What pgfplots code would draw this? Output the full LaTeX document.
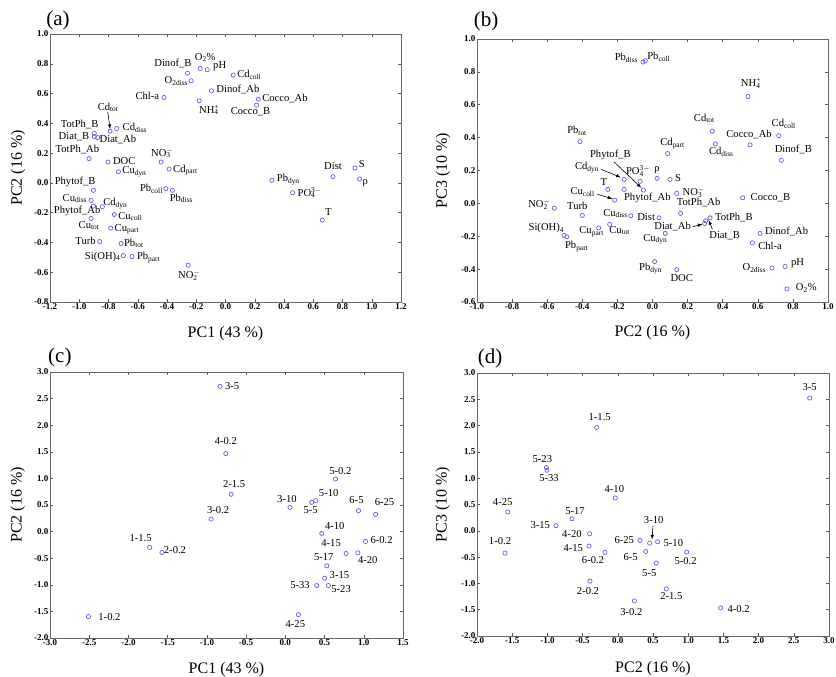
\documentclass[border=0pt]{standalone}
\usepackage{fontspec}
\setmainfont{Liberation Serif}
\usepackage{pgfplots}
\usepackage{pgfplotstable}
\pgfplotsset{compat=1.18}
\definecolor{mk}{RGB}{105,95,225}
\newcommand\subsup[2]{\makebox[0pt][l]{\textsubscript{#1}}\textsuperscript{#2}}
\newcommand\lblfont{\fontsize{10.6}{12}\selectfont}
\newcommand\axlblfont{\fontsize{16}{18}\selectfont}
\newcommand\panelfont{\fontsize{21}{24}\selectfont}
\newcommand\LW[1]{\rlap{#1}}
\newcommand\LE[1]{\llap{#1}}

\pgfplotstableread[col sep=comma,row sep=\\]{
x,y,lab,dx,dy\\
-0.26,0.737,\LE{Dinof\_B},4,10\\
-0.173,0.769,O\textsubscript{2}\%,5,11\\
-0.125,0.76,\LW{pH},6,4\\
-0.235,0.686,\LE{O\textsubscript{2diss}},-3,0\\
0.053,0.724,\LW{Cd\textsubscript{coll}},4,0\\
-0.096,0.618,\LW{Dinof\_Ab},5,1\\
-0.42,0.574,\LE{Chl-a},-5,2\\
-0.18,0.551,NH\subsup{4}{+},10,-9\\
0.224,0.562,\LW{Cocco\_Ab},4,1\\
0.212,0.522,Cocco\_B,-6,-7\\
-0.789,0.347,Cd\textsubscript{tot},-2,24\\
-0.744,0.365,\LW{Cd\textsubscript{diss}},6,1\\
-0.897,0.333,\LE{TotPh\_B},4,9\\
-0.897,0.311,\LE{Diat\_B},-5,0\\
-0.874,0.304,\LW{Diat\_Ab},2,-2\\
-0.933,0.163,\LE{TotPh\_Ab},10,9\\
-0.803,0.14,\LW{DOC},5,1\\
-0.732,0.075,\LW{Cu\textsubscript{dyn}},4,0\\
-0.44,0.14,NO\subsup{3}{$-$},1,9\\
-0.385,0.093,\LW{Cd\textsubscript{part}},4,-1\\
-0.408,-0.039,\LE{Pb\textsubscript{coll}},-3,0\\
-0.363,-0.05,Pb\textsubscript{diss},9,-8\\
-0.903,-0.05,\LE{Phytof\_B},2,8\\
-0.919,-0.118,\LE{Cu\textsubscript{diss}},-4,2\\
-0.842,-0.16,\LW{Cd\textsubscript{dyn}},1,3\\
-0.903,-0.156,\LE{Phytof\_Ab},7,-5\\
-0.76,-0.212,\LW{Cu\textsubscript{coll}},4,-2\\
-0.919,-0.239,Cu\textsubscript{tot},-2,-7\\
-0.785,-0.304,\LW{Cu\textsubscript{part}},4,-1\\
-0.86,-0.394,\LE{Turb},-4,1\\
-0.714,-0.407,\LW{Pb\textsubscript{tot}},3,0\\
-0.698,-0.488,\LE{Si(OH)\textsubscript{4}},-3,-1\\
-0.639,-0.495,\LW{Pb\textsubscript{part}},5,-1\\
-0.255,-0.553,NO\subsup{2}{$-$},1,-10\\
0.317,0.017,\LW{Pb\textsubscript{dyn}},5,1\\
0.459,-0.066,\LW{PO\subsup{4}{3$-$}},5,0\\
0.735,0.042,Dist,0,11\\
0.885,0.10,\LW{S},4,4\\
0.917,0.026,\LW{ρ},3,-4\\
0.662,-0.25,T,6,8\\
}\tabA

\pgfplotstableread[col sep=comma,row sep=\\]{
x,y,lab,dx,dy\\
-0.054,0.86,\LE{Pb\textsubscript{diss}},-5,4\\
-0.041,0.868,\LW{Pb\textsubscript{coll}},2,4\\
0.544,0.65,NH\subsup{4}{+},3,13\\
0.341,0.439,Cd\textsubscript{tot},-8,13\\
0.719,0.412,Cd\textsubscript{coll},5,12\\
0.556,0.356,Cocco\_Ab,-1,10\\
0.358,0.362,Cd\textsubscript{diss},6,-8\\
0.734,0.262,Dinof\_B,12,11\\
-0.413,0.376,Pb\textsubscript{tot},-3,11\\
0.086,0.303,Cd\textsubscript{part},5,10\\
-0.052,0.081,Phytof\_B,-33,35\\
-0.162,0.146,Cd\textsubscript{dyn},-37,12\\
-0.071,0.134,PO\subsup{4}{3$-$},-2,10\\
0.026,0.152,ρ,0,8\\
0.10,0.146,\LW{S},5,1\\
-0.255,0.085,T,-4,7\\
-0.162,0.085,\LW{Phytof\_Ab},0,-9\\
-0.216,0.02,Cu\textsubscript{coll},-32,8\\
0.138,0.061,\LW{NO\subsup{3}{$-$}},6,1\\
0.16,-0.061,TotPh\_Ab,18,11\\
0.514,0.034,\LW{Cocco\_B},8,0\\
-0.559,-0.029,\LE{NO\subsup{2}{$-$}},-4,4\\
-0.40,-0.073,Turb,-5,10\\
-0.124,-0.075,\LE{Cu\textsubscript{diss}},-3,2\\
0.037,-0.088,\LE{Dist},-4,1\\
0.328,-0.088,\LW{TotPh\_B},5,0\\
0.303,-0.106,Diat\_B,19,-15\\
0.297,-0.122,Diat\_Ab,-32,-3\\
-0.244,-0.128,Cu\textsubscript{tot},10,-6\\
-0.307,-0.149,Cu\textsubscript{part},-7,-4\\
0.073,-0.183,Cu\textsubscript{dyn},-10,-6\\
-0.504,-0.195,\LE{Si(OH)\textsubscript{4}},0,7\\
-0.489,-0.203,Pb\textsubscript{part},10,-10\\
0.613,-0.183,\LW{Dinof\_Ab},5,2\\
0.569,-0.24,\LW{Chl-a},6,-3\\
0.012,-0.354,Pb\textsubscript{dyn},-4,-7\\
0.138,-0.403,DOC,5,-8\\
0.681,-0.393,\LE{O\textsubscript{2diss}},-6,0\\
0.755,-0.384,\LW{pH},6,3\\
0.766,-0.521,\LW{O\textsubscript{2}\%},9,1\\
}\tabB

\pgfplotstableread[col sep=comma,row sep=\\]{
x,y,lab,dx,dy\\
-0.831,2.73,\LW{3-5},5,0\\
-0.759,1.467,4-0.2,0,13\\
-0.691,0.701,2-1.5,3,10\\
-0.946,0.236,3-0.2,7,9\\
-1.73,-0.298,1-1.5,-9,9\\
-1.573,-0.392,\LW{2-0.2},2,2\\
-2.51,-1.598,\LW{1-0.2},10,0\\
0.059,0.456,3-10,-3,8\\
0.336,0.55,5-5,-1,-8\\
0.387,0.582,5-10,13,8\\
0.639,0.99,5-0.2,5,8\\
0.933,0.393,6-5,-2,11\\
1.15,0.324,6-25,9,12\\
0.464,-0.034,4-10,13,7\\
1.022,-0.185,\LW{6-0.2},5,1\\
0.775,-0.411,4-15,-15,10\\
0.924,-0.398,4-20,10,-7\\
0.528,-0.643,5-17,-3,9\\
0.502,-0.876,\LW{3-15},5,3\\
0.40,-1.014,\LE{5-33},-7,1\\
0.549,-1.014,\LW{5-23},3,-3\\
0.166,-1.56,4-25,-3,-9\\
}\tabC

\pgfplotstableread[col sep=comma,row sep=\\]{
x,y,lab,dx,dy\\
2.725,2.524,3-5,0,11\\
-0.30,1.964,1-1.5,3,10\\
-1.015,1.202,5-23,-4,9\\
-1.006,1.151,5-33,2,-8\\
-0.035,0.624,4-10,-1,9\\
-1.564,0.357,4-25,-5,10\\
-0.651,0.23,5-17,3,8\\
-0.878,0.097,\LE{3-15},-6,1\\
-0.40,-0.056,\LE{4-20},-8,0\\
-1.602,-0.424,1-0.2,-5,12\\
-0.409,-0.291,\LE{4-15},-6,-2\\
-0.182,-0.412,6-0.2,-12,-8\\
0.315,-0.183,\LE{6-25},-6,0\\
0.453,-0.234,3-10,4,23\\
0.566,-0.208,\LW{5-10},6,-1\\
0.396,-0.393,6-5,-15,-6\\
0.978,-0.405,5-0.2,-1,-9\\
0.547,-0.615,5-5,-7,-10\\
-0.395,-0.958,2-0.2,-2,-10\\
0.689,-1.104,2-1.5,5,-7\\
0.235,-1.333,3-0.2,-3,-11\\
1.461,-1.466,\LW{4-0.2},7,-1\\
}\tabD

\pgfplotsset{
  pca/.style={
    scale only axis, clip=false,
    axis line style={black!60, line width=0.9pt},
    tick style={black!65, line width=0.5pt},
    tick align=inside, major tick length=3pt,
    tick label style={font=\fontsize{9}{10}\selectfont\bfseries},
    xticklabel style={inner sep=1.5pt},
    yticklabel style={inner sep=1.5pt},
    /pgf/number format/assume math mode=true,
    /pgf/number format/fixed, /pgf/number format/fixed zerofill,
    /pgf/number format/precision=1,
  },
  pts/.style={only marks, mark=o, mark size=2.1pt, mk,
    mark options={line width=0.7pt},
    point meta=explicit symbolic, nodes near coords,
    visualization depends on={\thisrow{dx}\as\myDX},
    visualization depends on={\thisrow{dy}\as\myDY},
    every node near coord/.append style={anchor=center, xshift=\myDX pt,
      yshift=\myDY pt, inner sep=0pt, text=black, font=\lblfont}},
}

\begin{document}
\begin{tikzpicture}
\path[use as bounding box] (0,0) rectangle (836pt,-677pt);

% (a)
\begin{axis}[pca, at={(50pt,-34pt)}, anchor=north west, width=351pt, height=268pt,
  xmin=-1.2, xmax=1.2, ymin=-0.8, ymax=1.0,
  xtick={-1.2,-1,-0.8,-0.6,-0.4,-0.2,0,0.2,0.4,0.6,0.8,1,1.2},
  ytick={-0.8,-0.6,-0.4,-0.2,0,0.2,0.4,0.6,0.8,1},
  xlabel={PC1 (43 \%)}, ylabel={PC2 (16 \%)},
  every axis x label/.style={at={(axis description cs:0.5,-0.118)}, anchor=center, font=\axlblfont},
  every axis y label/.style={at={(axis description cs:-0.091,0.5)}, rotate=90, anchor=center, font=\axlblfont}]
\addplot[pts] table[x=x,y=y,meta=lab]{\tabA};
\draw[-latex, line width=0.6pt] (axis cs:-0.805,0.475) -- (axis cs:-0.789,0.362);
\node[font=\panelfont] at (rel axis cs:0.023,1.052) {(a)};
\end{axis}

% (b)
\begin{axis}[pca, at={(477pt,-39pt)}, anchor=north west, width=351pt, height=263pt,
  xmin=-1, xmax=1, ymin=-0.6, ymax=1.0,
  xtick={-1,-0.8,-0.6,-0.4,-0.2,0,0.2,0.4,0.6,0.8,1},
  ytick={-0.6,-0.4,-0.2,0,0.2,0.4,0.6,0.8,1},
  xlabel={PC2 (16 \%)}, ylabel={PC3 (10 \%)},
  every axis x label/.style={at={(axis description cs:0.5,-0.118)}, anchor=center, font=\axlblfont},
  every axis y label/.style={at={(axis description cs:-0.097,0.5)}, rotate=90, anchor=center, font=\axlblfont}]
\addplot[pts] table[x=x,y=y,meta=lab]{\tabB};
\draw[-latex, line width=0.6pt] (axis cs:-0.219,0.252) -- (axis cs:-0.064,0.095);
\draw[-latex, line width=0.6pt] (axis cs:-0.292,0.207) -- (axis cs:-0.181,0.158);
\draw[-latex, line width=0.6pt] (axis cs:-0.314,0.055) -- (axis cs:-0.229,0.028);
\draw[-latex, line width=0.6pt] (axis cs:0.227,-0.143) -- (axis cs:0.285,-0.126);
\draw[-latex, line width=0.6pt] (axis cs:0.341,-0.157) -- (axis cs:0.320,-0.102);
\node[font=\panelfont] at (rel axis cs:0.026,1.068) {(b)};
\end{axis}

% (c)
\begin{axis}[pca, at={(50pt,-372pt)}, anchor=north west, width=353pt, height=266pt,
  xmin=-3, xmax=1.5, ymin=-2, ymax=3,
  xtick={-3,-2.5,-2,-1.5,-1,-0.5,0,0.5,1,1.5},
  ytick={-2,-1.5,-1,-0.5,0,0.5,1,1.5,2,2.5,3},
  xlabel={PC1 (43 \%)}, ylabel={PC2 (16 \%)},
  every axis x label/.style={at={(axis description cs:0.5,-0.12)}, anchor=center, font=\axlblfont},
  every axis y label/.style={at={(axis description cs:-0.091,0.5)}, rotate=90, anchor=center, font=\axlblfont}]
\addplot[pts] table[x=x,y=y,meta=lab]{\tabC};
\node[font=\panelfont] at (rel axis cs:0.028,1.053) {(c)};
\end{axis}

% (d)
\begin{axis}[pca, at={(477pt,-373pt)}, anchor=north west, width=352pt, height=263pt,
  xmin=-2, xmax=3, ymin=-2, ymax=3,
  xtick={-2,-1.5,-1,-0.5,0,0.5,1,1.5,2,2.5,3},
  ytick={-2,-1.5,-1,-0.5,0,0.5,1,1.5,2,2.5,3},
  xlabel={PC2 (16 \%)}, ylabel={PC3 (10 \%)},
  every axis x label/.style={at={(axis description cs:0.5,-0.125)}, anchor=center, font=\axlblfont},
  every axis y label/.style={at={(axis description cs:-0.097,0.5)}, rotate=90, anchor=center, font=\axlblfont}]
\addplot[pts] table[x=x,y=y,meta=lab]{\tabD};
\draw[-latex, line width=0.6pt] (axis cs:0.5,0.097) -- (axis cs:0.486,-0.165);
\node[font=\panelfont] at (rel axis cs:0.037,1.057) {(d)};
\end{axis}
\end{tikzpicture}
\end{document}
